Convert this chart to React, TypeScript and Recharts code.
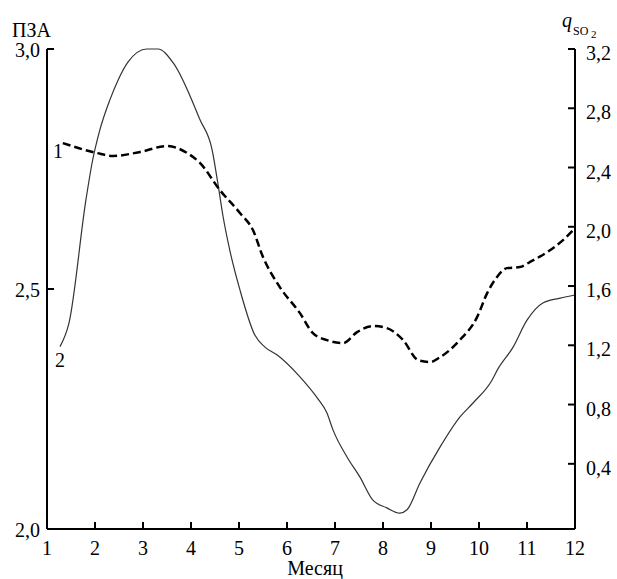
import { LineChart, Line, XAxis, YAxis } from "recharts";

const FONT = '"Liberation Serif", "Times New Roman", serif';

// ось X — месяцы
const MONTH_TICKS = [1, 2, 3, 4, 5, 6, 7, 8, 9, 10, 11, 12];
const PZA_TICKS = [2.0, 2.5, 3.0];
const SO2_TICKS = [0.4, 0.8, 1.2, 1.6, 2.0, 2.4, 2.8, 3.2];

// кривая 1 (пунктир) — q SO2, правая ось
const MONTHS_1 = [1.33, 2.04, 2.375, 2.94, 3.5, 3.92, 4.19, 4.6, 5.02, 5.29, 5.5, 5.85, 6.27, 6.54, 6.83, 7.17, 7.46, 7.79, 8.08, 8.42, 8.73, 8.98, 9.19, 9.6, 9.96, 10.17, 10.375, 10.58, 10.85, 11.06, 11.42, 11.75, 12];
const SO2 = [2.565, 2.498, 2.478, 2.505, 2.545, 2.498, 2.43, 2.248, 2.093, 1.978, 1.796, 1.593, 1.417, 1.282, 1.235, 1.215, 1.289, 1.33, 1.316, 1.235, 1.1, 1.087, 1.12, 1.235, 1.39, 1.552, 1.661, 1.721, 1.728, 1.762, 1.829, 1.91, 1.991];

// кривая 2 (сплошная) — ПЗА, левая ось
const MONTHS_2 = [1.27, 1.46, 1.81, 1.94, 2.1, 2.31, 2.48, 2.69, 3.08, 3.31, 3.63, 4.19, 4.44, 4.56, 4.67, 4.81, 5.02, 5.33, 5.54, 5.79, 6.27, 6.63, 6.83, 6.96, 7.25, 7.52, 7.79, 8.08, 8.35, 8.5, 8.77, 9.19, 9.6, 9.88, 10.27, 10.38, 10.71, 11.0, 11.33, 11.69, 12];
const PZA = [2.38, 2.43, 2.685, 2.763, 2.831, 2.894, 2.935, 2.973, 3.0, 3.0, 2.971, 2.852, 2.79, 2.72, 2.65, 2.58, 2.498, 2.404, 2.379, 2.363, 2.317, 2.273, 2.242, 2.206, 2.15, 2.108, 2.06, 2.044, 2.033, 2.04, 2.096, 2.171, 2.233, 2.263, 2.31, 2.331, 2.379, 2.435, 2.471, 2.481, 2.4875];

const line1 = MONTHS_1.map((m, i) => ({ m, so2: SO2[i] }));
const line2 = MONTHS_2.map((m, i) => ({ m, pza: PZA[i] }));

const fmt = (v: number) => v.toFixed(1).replace(".", ",");

const BottomTick = ({ x, y, payload }: any) => (
  <g>
    <line x1={x} y1={y} x2={x} y2={y - 7} stroke="#000" strokeWidth={2} />
    <text x={x} y={y + 26} textAnchor="middle" fontSize={20} fontFamily={FONT} fill="#000">
      {payload.value}
    </text>
  </g>
);

const LeftTick = ({ x, y, payload }: any) => (
  <g>
    <line x1={x} y1={y} x2={x + 7} y2={y} stroke="#000" strokeWidth={2} />
    <text x={x - 7} y={y + 8} textAnchor="end" fontSize={20} fontFamily={FONT} fill="#000">
      {fmt(payload.value)}
    </text>
  </g>
);

const RightTick = ({ x, y, payload }: any) => (
  <g>
    <line x1={x} y1={y} x2={x - 7} y2={y} stroke="#000" strokeWidth={2} />
    <text x={x + 11} y={y + 11} textAnchor="start" fontSize={20} fontFamily={FONT} fill="#000">
      {fmt(payload.value)}
    </text>
  </g>
);

export default function App() {
  return (
    <div style={{ position: "absolute", left: 0, top: 0, width: 617, height: 579, background: "#fff" }}>
      <LineChart width={617} height={579} margin={{ top: 49, right: 0, bottom: 20, left: 0 }}>
        <XAxis
          dataKey="m"
          type="number"
          domain={[1, 12]}
          ticks={MONTH_TICKS}
          allowDuplicatedCategory={false}
          height={30}
          tickSize={0}
          tickMargin={0}
          tick={<BottomTick />}
          axisLine={{ stroke: "#000", strokeWidth: 2 }}
          tickLine={false}
        />
        <YAxis
          yAxisId="left"
          type="number"
          domain={[2, 3]}
          ticks={PZA_TICKS}
          width={47}
          tickSize={0}
          tickMargin={0}
          tick={<LeftTick />}
          axisLine={{ stroke: "#000", strokeWidth: 2 }}
          tickLine={false}
        />
        <YAxis
          yAxisId="right"
          orientation="right"
          type="number"
          domain={[-0.04, 3.2]}
          ticks={SO2_TICKS}
          width={42}
          tickSize={0}
          tickMargin={0}
          tick={<RightTick />}
          axisLine={{ stroke: "#000", strokeWidth: 2 }}
          tickLine={false}
        />
        <Line
          data={line2}
          yAxisId="left"
          dataKey="pza"
          type="monotone"
          stroke="#333"
          strokeWidth={1.2}
          dot={false}
          isAnimationActive={false}
        />
        <Line
          data={line1}
          yAxisId="right"
          dataKey="so2"
          type="monotone"
          stroke="#000"
          strokeWidth={2.5}
          strokeDasharray="8 4"
          dot={false}
          isAnimationActive={false}
        />
      </LineChart>
      <svg
        width={617}
        height={579}
        style={{ position: "absolute", left: 0, top: 0, pointerEvents: "none" }}
        fontFamily={FONT}
        fill="#000"
      >
        <text x={12} y={37} fontSize={20}>ПЗА</text>
        <text x={562} y={27} fontSize={20} fontStyle="italic">q</text>
        <text x={573} y={35} fontSize={12}>SO</text>
        <text x={591} y={38} fontSize={11}>2</text>
        <text x={53} y={158} fontSize={20}>1</text>
        <text x={55} y={367} fontSize={20}>2</text>
        <text x={315} y={575} fontSize={20} textAnchor="middle">Месяц</text>
      </svg>
    </div>
  );
}
